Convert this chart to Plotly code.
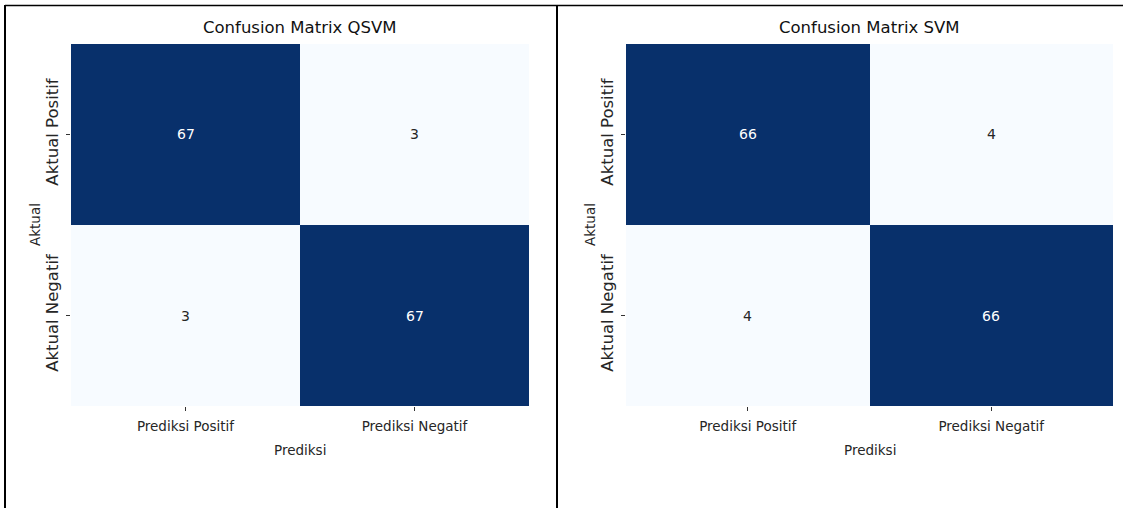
import plotly.graph_objects as go

W, H = 1125, 508

pred_labels = ["Prediksi Positif", "Prediksi Negatif"]
act_labels = ["Aktual Positif", "Aktual Negatif"]
qsvm_values = [[67, 3], [3, 67]]
svm_values = [[66, 4], [4, 66]]
titles = ["Confusion Matrix QSVM", "Confusion Matrix SVM"]
x_label = "Prediksi"
y_label = "Aktual"

FONT = "DejaVu Sans"
blues = [[0.0, "#f7fbff"], [0.125, "#deebf7"], [0.25, "#c6dbef"], [0.375, "#9ecae1"],
         [0.5, "#6baed6"], [0.625, "#4292c6"], [0.75, "#2171b5"], [0.875, "#08519c"],
         [1.0, "#08306b"]]

def px_x(v):
    return v / W

def px_y(v):
    return 1 - v / H

panels = [
    dict(z=qsvm_values, title=titles[0], x0=71, x1=529, xa="x", ya="y"),
    dict(z=svm_values, title=titles[1], x0=626, x1=1113, xa="x2", ya="y2"),
]
top_px, bot_px = 44, 406

fig = go.Figure()
annotations = []
for i, p in enumerate(panels):
    z = p["z"]
    zmin = min(min(r) for r in z)
    zmax = max(max(r) for r in z)
    fig.add_trace(go.Heatmap(
        z=z, x=pred_labels, y=act_labels, xaxis=p["xa"], yaxis=p["ya"],
        colorscale=blues, zmin=zmin, zmax=zmax, showscale=False,
        xgap=0, ygap=0, hoverinfo="skip",
    ))
    suffix = "" if i == 0 else "2"
    axis_common = dict(showgrid=False, zeroline=False, showline=False,
                       ticks="outside", ticklen=4, tickwidth=1, tickcolor="#333333")
    fig.update_layout(**{
        "xaxis" + suffix: dict(domain=[px_x(p["x0"]), px_x(p["x1"])], anchor="y" + suffix,
                               tickfont=dict(family=FONT, size=13.5, color="#262626"),
                               ticklabelstandoff=4, **axis_common),
        "yaxis" + suffix: dict(domain=[px_y(bot_px), px_y(top_px)], anchor="x" + suffix,
                               autorange="reversed", tickangle=-90,
                               tickfont=dict(family=FONT, size=16.5, color="#262626"),
                               ticklabelstandoff=1, **axis_common),
    })
    for r, row in enumerate(z):
        for c, v in enumerate(row):
            frac = (v - zmin) / (zmax - zmin) if zmax > zmin else 0
            annotations.append(dict(
                x=pred_labels[c], y=act_labels[r], xref=p["xa"], yref=p["ya"],
                text=str(v), showarrow=False,
                font=dict(family=FONT, size=14, color="#ffffff" if frac > 0.5 else "#262626"),
            ))
    cx = (p["x0"] + p["x1"]) / 2
    annotations.append(dict(x=px_x(cx), y=px_y(27), xref="paper", yref="paper",
                            text=p["title"], showarrow=False, xanchor="center", yanchor="middle",
                            font=dict(family=FONT, size=16.5, color="#111111")))
    annotations.append(dict(x=px_x(cx), y=px_y(450), xref="paper", yref="paper",
                            text=x_label, showarrow=False, xanchor="center", yanchor="middle",
                            font=dict(family=FONT, size=13.5, color="#262626")))
    annotations.append(dict(x=px_x(p["x0"] - 36), y=px_y((top_px + bot_px) / 2),
                            xref="paper", yref="paper", textangle=-90,
                            text=y_label, showarrow=False, xanchor="center", yanchor="middle",
                            font=dict(family=FONT, size=13.5, color="#262626")))

shapes = [
    dict(type="line", xref="paper", yref="paper", x0=px_x(5), x1=px_x(1123),
         y0=px_y(5.5), y1=px_y(5.5), line=dict(color="#000000", width=1.5)),
    dict(type="line", xref="paper", yref="paper", x0=px_x(5), x1=px_x(5),
         y0=px_y(5), y1=px_y(508), line=dict(color="#000000", width=2)),
    dict(type="line", xref="paper", yref="paper", x0=px_x(557), x1=px_x(557),
         y0=px_y(5), y1=px_y(508), line=dict(color="#000000", width=2)),
]

fig.update_layout(
    width=W, height=H, margin=dict(l=0, r=0, t=0, b=0),
    paper_bgcolor="white", plot_bgcolor="white",
    annotations=annotations, shapes=shapes, showlegend=False,
)

fig.write_html("out.html")
